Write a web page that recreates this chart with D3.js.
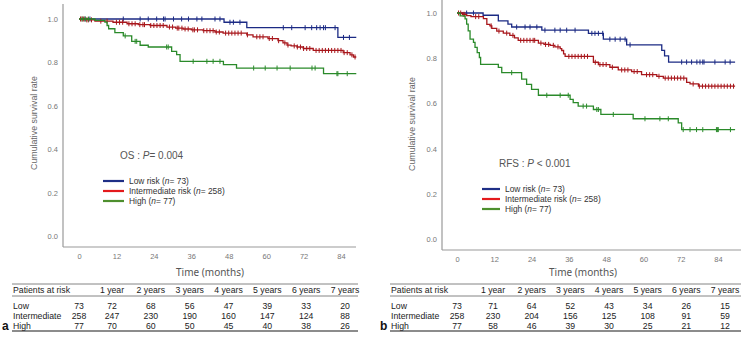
<!DOCTYPE html>
<html>
<head>
<meta charset="utf-8" />
<title>Kaplan-Meier OS / RFS by risk group</title>
<script src="https://cdn.jsdelivr.net/npm/d3@7"></script>
<style>
  body { margin: 0; background: #fff; }
  svg { font-family: "Liberation Sans", Arial, sans-serif; }
  .curve { fill: none; stroke-width: 1.3px; }
  .cens { stroke-width: 1px; }
</style>
</head>
<body>
<script>
// ---- data ----
var monthTicks = [0, 12, 24, 36, 48, 60, 72, 84];
var rateTicks = [0, 0.2, 0.4, 0.6, 0.8, 1.0];
var groups = ['Low', 'Intermediate', 'High'];
var legendNames = ['Low risk', 'Intermediate risk', 'High'];
var groupN = [73, 258, 77];
var tableHeader = ['Patients at risk', '', '1 year', '2 years', '3 years', '4 years', '5 years', '6 years', '7 years'];

// OS curves: [month, survival] step points
var osLow = [[0,1],[46.5,0.985],[53.8,0.96],[83,0.915],[88.9,0.915]];
var osLowCens = [1.9,3.5,14.2,19.6,22.2,24.9,27.1,27.6,30.3,32.9,35.1,37.8,39.4,43.6,45.2,48.4,49.5,51.6,65.5,68.2,72.5,74.6,76.2,77.3,78.4,79,82.1,84.8,86.7];
var osInt = [[0,1],[2,0.996],[5.1,0.99],[10.9,0.985],[15.4,0.978],[19,0.974],[22.8,0.97],[28.2,0.963],[31,0.958],[33.4,0.954],[36,0.95],[39.8,0.946],[43.6,0.94],[46.2,0.935],[53.8,0.927],[55.8,0.918],[60.6,0.91],[63.8,0.9],[65.4,0.89],[66.7,0.88],[68,0.876],[69.9,0.871],[71.9,0.864],[75.1,0.855],[84.7,0.845],[86.9,0.835],[88,0.825],[88.9,0.825]];
var osIntCens = [0.5,1,1.5,2.5,3,4,7,9,12,13,14,16,17,18,19.5,20.5,21,23,24,25,26,27,29,30,31.5,32,33,34,35,36.5,37,38,40,41,42,43,44,45,47,48,49,50,51,52,54,57,58,59,61,62,64,66,67,69,70,71,72,73,74,76,77,78,79,80,81,82,83,84,85,86,87.5,88.5];
var osHigh = [[0,1],[5.1,0.994],[8.3,0.986],[9,0.97],[9.5,0.955],[11.5,0.937],[14.2,0.922],[16.9,0.897],[19.6,0.879],[22.2,0.871],[29.7,0.851],[31.3,0.836],[32.4,0.805],[46.3,0.79],[50.5,0.774],[78.4,0.748],[88.9,0.748]];
var osHighCens = [1,2,3,14.8,18,18.5,28.1,28.6,36.6,41,43,45.2,56,59.7,63.5,67.7,74.7,75.7,82.7,83,86];

// RFS curves
var rfsLow = [[0,1],[8.4,0.99],[13.3,0.965],[16.4,0.951],[17.6,0.938],[27.3,0.924],[42.3,0.91],[47.1,0.884],[54.6,0.859],[65.9,0.835],[66.8,0.81],[68.1,0.783],[89.5,0.783]];
var rfsLowCens = [3.1,5.3,19.2,21.9,23.5,25.7,28.3,31.5,33.2,35.3,38,43.4,44.4,45.5,46.9,49.2,50.9,52.5,54.1,55.7,72.3,73.9,75.5,77.2,78.2,79.1,79.5,83,86.3,87.9];
var rfsInt = [[0,1],[1.8,0.994],[3.1,0.988],[4.5,0.984],[8.5,0.975],[9.6,0.95],[10.6,0.943],[11.2,0.932],[12.8,0.92],[14.9,0.911],[17,0.901],[18.5,0.89],[19.7,0.879],[26.2,0.867],[28,0.861],[30,0.857],[31.5,0.85],[33.2,0.842],[33.7,0.834],[34.3,0.819],[34.8,0.808],[43.9,0.782],[45.5,0.772],[49.2,0.76],[51.9,0.748],[56.2,0.741],[59.4,0.727],[64.3,0.72],[66.4,0.712],[73.9,0.693],[75,0.686],[77.7,0.676],[89.5,0.676]];
var rfsIntCens = [0.5,1.2,2,2.5,6,7,11,13.5,16,18,20.5,21.5,22.5,23.5,24.5,25,27,28.5,29.5,31,32.5,36,37,38,39,40,41,42,44.5,46,47,48,50,53,54,55,57,58,61,62,63,65,67,68,69,70,71,72,73,76,78,79,80,81,82,83,84,85,86,87,88,89];
var rfsHigh = [[0,1],[1,0.987],[2.6,0.974],[3.1,0.951],[3.6,0.921],[4.2,0.884],[5.3,0.87],[5.8,0.848],[6.5,0.825],[7.2,0.803],[7.6,0.773],[13.3,0.759],[14.4,0.736],[20.8,0.707],[22.4,0.684],[24,0.662],[26.2,0.636],[36.4,0.618],[37.4,0.603],[39,0.588],[43.9,0.573],[46.3,0.551],[56.7,0.532],[71.2,0.514],[72.3,0.484],[89.5,0.484]];
var rfsHighCens = [17.6,28.9,33.2,35.8,40.6,41.7,45,45.5,50.3,60.5,65.3,68,72.8,75,77.1,79.1,83.5,83.8,84.1,88];

// numbers at risk
var osAtRisk = [[73,72,68,56,47,39,33,20],[258,247,230,190,160,147,124,88],[77,70,60,50,45,40,38,26]];
var rfsAtRisk = [[73,71,64,52,43,34,26,15],[258,230,204,156,125,108,91,59],[77,58,46,39,30,25,21,12]];

var curveColors = ['#1b2a84', '#a8161b', '#2a8a2a'];
var legendColors = ['#1f2f86', '#e31a1c', '#4e8f2e'];

var svg = d3.select('body').append('svg')
    .attr('width', 741)
    .attr('height', 339);

function survAt(steps, t) {
    var s = steps[0][1];
    steps.forEach(function(p) { if (p[0] <= t) s = p[1]; });
    return s;
}

function drawPanel(p) {
    var x = d3.scaleLinear().domain([0, 84]).range([p.x0, p.x84]);
    var y = d3.scaleLinear().domain([0, 1]).range([p.yBottom, p.yTop]);
    var g = svg.append('g');

    // axis lines
    g.append('line')
        .attr('x1', p.axisX).attr('x2', p.axisX)
        .attr('y1', p.axisTop).attr('y2', p.axisY)
        .attr('stroke', '#999').attr('stroke-width', 1.2);
    g.append('line')
        .attr('x1', p.axisX).attr('x2', p.axisRight)
        .attr('y1', p.axisY).attr('y2', p.axisY)
        .attr('stroke', '#999').attr('stroke-width', 1.2);

    // tick labels
    var xa = g.append('g')
        .attr('transform', 'translate(0,' + p.axisY + ')')
        .call(d3.axisBottom(x).tickValues(monthTicks).tickSize(0).tickPadding(7));
    var ya = g.append('g')
        .attr('transform', 'translate(' + p.axisX + ',0)')
        .call(d3.axisLeft(y).tickValues(rateTicks).tickSize(0).tickPadding(5).tickFormat(d3.format('.1f')));
    [xa, ya].forEach(function(a) {
        a.select('.domain').remove();
        a.selectAll('text')
            .attr('fill', '#777')
            .style('font-size', '7.5px')
            .style('font-family', '"Liberation Sans", Arial, sans-serif');
    });

    // y title
    g.append('text')
        .attr('transform', 'translate(' + p.yTitleX + ',' + p.yTitleY + ') rotate(-90)')
        .attr('text-anchor', 'middle')
        .attr('fill', '#666')
        .style('font-size', '8.8px')
        .text('Cumulative survival rate');

    // curves
    var line = d3.line()
        .x(function(d) { return x(d[0]); })
        .y(function(d) { return y(d[1]); })
        .curve(d3.curveStepAfter);

    p.curves.forEach(function(c, i) {
        g.append('path')
            .datum(c.steps)
            .attr('class', 'curve')
            .attr('stroke', curveColors[i])
            .attr('d', line);
        g.selectAll(null)
            .data(c.cens)
            .enter().append('line')
            .attr('class', 'cens')
            .attr('stroke', curveColors[i])
            .attr('x1', function(t) { return x(t); })
            .attr('x2', function(t) { return x(t); })
            .attr('y1', function(t) { return y(survAt(c.steps, t)) - 2.5; })
            .attr('y2', function(t) { return y(survAt(c.steps, t)) + 2.5; });
    });

    // p value
    var pt = g.append('text')
        .attr('x', p.pX).attr('y', p.pY)
        .attr('fill', '#555')
        .style('font-size', '10px');
    pt.append('tspan').text(p.endpoint + ' : ');
    pt.append('tspan').style('font-style', 'italic').text('P');
    pt.append('tspan').text(p.pText);

    // legend
    groups.forEach(function(gr, i) {
        var ly = p.legY + i * 10;
        g.append('line')
            .attr('x1', p.legX).attr('x2', p.legX + p.legLen)
            .attr('y1', ly).attr('y2', ly)
            .attr('stroke', legendColors[i]).attr('stroke-width', 2.2);
        var t = g.append('text')
            .attr('x', p.legX + p.legLen + 5).attr('y', ly + 3)
            .attr('fill', '#333')
            .style('font-size', '8.4px');
        t.append('tspan').text(legendNames[i] + ' (');
        t.append('tspan').style('font-style', 'italic').text('n');
        t.append('tspan').text('= ' + groupN[i] + ')');
    });

    // x title
    g.append('text')
        .attr('x', p.xTitleX).attr('y', 276)
        .attr('text-anchor', 'middle')
        .attr('fill', '#555')
        .style('font-family', '"Noto Sans", sans-serif')
        .style('font-size', '10px')
        .text('Time (months)');

    // at-risk table
    var col = d3.scaleLinear().domain([1, 7]).range([p.col1, p.col7]);
    function colX(k) { return k === 0 ? x(0) : col(k); }
    [284, 296, 331].forEach(function(ry) {
        g.append('line')
            .attr('x1', p.tabL).attr('x2', p.tabR)
            .attr('y1', ry).attr('y2', ry)
            .attr('stroke', '#666').attr('stroke-width', ry === 331 ? 1.3 : 0.8);
    });
    g.append('text')
        .attr('x', p.tabL + 1).attr('y', 293)
        .attr('fill', '#222').style('font-size', '8.7px')
        .text(tableHeader[0]);
    tableHeader.slice(2).forEach(function(h, k) {
        g.append('text')
            .attr('x', colX(k + 1)).attr('y', 293)
            .attr('text-anchor', 'middle')
            .attr('fill', '#222').style('font-size', '8.7px')
            .text(h);
    });
    p.atRisk.forEach(function(row, r) {
        var ry = 309 + r * 10;
        g.append('text')
            .attr('x', p.tabL + 1).attr('y', ry)
            .attr('fill', '#222').style('font-size', '8.7px')
            .text(groups[r]);
        row.forEach(function(v, k) {
            g.append('text')
                .attr('x', colX(k)).attr('y', ry)
                .attr('text-anchor', 'middle')
                .attr('fill', '#222').style('font-size', '8.7px')
                .text(v);
        });
    });

    // panel letter
    g.append('text')
        .attr('x', p.letterX).attr('y', 330)
        .attr('fill', '#111')
        .style('font-size', '12px').style('font-weight', 'bold')
        .text(p.letter);
}

drawPanel({
    letter: 'a', letterX: 2, endpoint: 'OS', pText: '= 0.004',
    x0: 79, x84: 341, yTop: 19, yBottom: 236,
    axisX: 63, axisTop: 4, axisY: 247, axisRight: 356,
    yTitleX: 37, yTitleY: 123,
    pX: 120, pY: 159, legX: 103, legLen: 21, legY: 181,
    xTitleX: 210,
    tabL: 12, tabR: 358, col1: 112, col7: 345,
    atRisk: osAtRisk,
    curves: [
        { steps: osLow, cens: osLowCens },
        { steps: osInt, cens: osIntCens },
        { steps: osHigh, cens: osHighCens }
    ]
});

drawPanel({
    letter: 'b', letterX: 380, endpoint: 'RFS', pText: ' < 0.001',
    x0: 457, x84: 718, yTop: 13, yBottom: 239,
    axisX: 442, axisTop: 0, axisY: 250, axisRight: 741,
    yTitleX: 415, yTitleY: 124,
    pX: 499, pY: 167, legX: 482, legLen: 18, legY: 189,
    xTitleX: 583,
    tabL: 390, tabR: 741, col1: 493, col7: 725,
    atRisk: rfsAtRisk,
    curves: [
        { steps: rfsLow, cens: rfsLowCens },
        { steps: rfsInt, cens: rfsIntCens },
        { steps: rfsHigh, cens: rfsHighCens }
    ]
});
</script>
</body>
</html>
